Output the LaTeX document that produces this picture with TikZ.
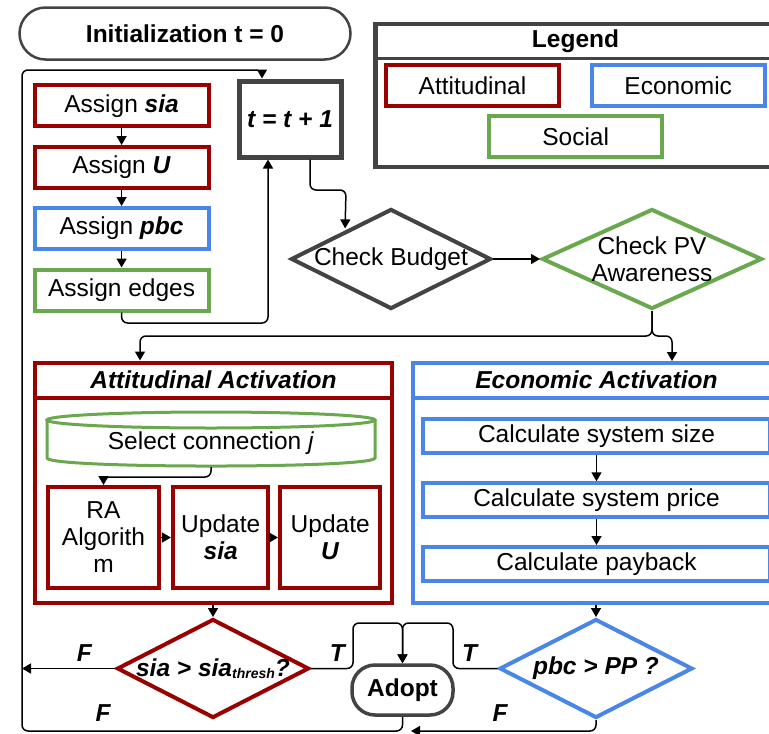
\documentclass[tikz,border=0pt]{standalone}
\usepackage{fontspec}
\setmainfont{Liberation Sans}
\usepackage{tikz}
\usetikzlibrary{shapes,arrows.meta,calc}
\definecolor{attred}{HTML}{990000}
\definecolor{ecoblue}{HTML}{4A86E8}
\definecolor{socgreen}{HTML}{6AA84F}
\definecolor{ctrlgray}{HTML}{434343}
\newcommand{\fsz}{\fontsize{24.5}{27}\selectfont}
\newcommand{\bi}[1]{\textbf{\textit{#1}}}
\tikzstyle{box}=[rectangle,draw,fill=white,line width=4pt,inner sep=0pt,align=center,font=\fsz]
\tikzstyle{attbox}=[box,draw=attred]
\tikzstyle{ecobox}=[box,draw=ecoblue]
\tikzstyle{socbox}=[box,draw=socgreen]
\tikzstyle{ctrlbox}=[box,draw=ctrlgray]
\tikzstyle{dec}=[diamond,draw,fill=white,line width=4pt,inner sep=0pt]
\tikzstyle{flow}=[line width=1.5pt,rounded corners=6pt,-{Triangle[length=9pt,width=10pt]}]
\tikzstyle{lbl}=[font=\fsz\bfseries\itshape]
\newcommand{\pxunit}{1pt}

\begin{document}
\begin{tikzpicture}[x=\pxunit,y=-\pxunit]
    \useasboundingbox (0,0) rectangle (769,734);
    \clip (0,0) rectangle (769,734);
    % start
    \node[ctrlbox, line width=2.5pt, rounded corners=26pt, minimum width=331pt, minimum height=52pt, font=\fsz\bfseries] (init) at (185,33.5) {Initialization t = 0};
    % legend
    \node[ctrlbox, line width=4.5pt, minimum width=400pt, minimum height=143pt] (legend) at (575.5,95.5) {};
    \draw[ctrlgray, line width=3pt] (375.5,58.3) -- (775.5,58.3);
    \node[font=\fsz\bfseries] (legtitle) at (575.5,41) {Legend};
    \node[attbox, minimum width=173pt, minimum height=41pt] (legatt) at (472.5,85.5) {Attitudinal};
    \node[ecobox, minimum width=173pt, minimum height=41pt] (legeco) at (678.2,85.5) {Economic};
    \node[socbox, minimum width=173pt, minimum height=41pt] (legsoc) at (575.7,136.7) {Social};
    % setup
    \node[attbox, minimum width=174pt, minimum height=41pt] (asia) at (121.6,105.8) {Assign \bi{sia}};
    \node[attbox, minimum width=174pt, minimum height=41pt] (au) at (121.6,167.5) {Assign \bi{U}};
    \node[ecobox, minimum width=174pt, minimum height=41pt] (apbc) at (121.6,228.5) {Assign \bi{pbc}};
    \node[socbox, minimum width=174pt, minimum height=41pt] (aedges) at (121.6,290) {Assign edges};
    \node[ctrlbox, line width=5pt, minimum width=102pt, minimum height=76pt] (tinc) at (290,119) {\bi{t = t + 1}};
    \draw[flow] (asia) -- (au);
    \draw[flow] (au) -- (apbc);
    \draw[flow] (apbc) -- (aedges);
    \draw[flow] (aedges.south) |- (268,323) -- (tinc.south -| 268,0);
    % checks
    \node[dec, draw=ctrlgray, minimum width=200pt, minimum height=100pt] (budget) at (391,259) {};
    \node[font=\fsz] (budgettxt) at (budget) {Check Budget};
    \node[dec, draw=socgreen, minimum width=220pt, minimum height=100pt] (pvaware) at (652,259) {};
    \node[font=\fsz, align=center] (pvtxt) at (652,259) {Check PV\\Awareness};
    \draw[flow] (tinc.south -| 310,0) |- (346,190) -- ([yshift=2pt]$(budget.west)!0.55!(budget.north)$);
    \draw[flow] (budget.east) -- (pvaware.west);
    % activation blocks
    \node[attbox, minimum width=357pt, minimum height=240pt] (attact) at (213.5,482.5) {};
    \draw[attred, line width=4pt] (35,398) -- (392,398);
    \node[lbl] (atttitle) at (213.5,380) {Attitudinal Activation};
    \node[ecobox, minimum width=367pt, minimum height=239.5pt] (ecoact) at (596.5,482.75) {};
    \draw[ecoblue, line width=4pt] (413,398) -- (780,398);
    \node[lbl] (ecotitle) at (596.5,380) {Economic Activation};
    \draw[flow] (pvaware.south) |- (140,336) -- (attact.north -| 140,0);
    \draw[flow] (pvaware.south) |- (672,336) -- (ecoact.north -| 672,0);
    % select connection
    \draw[socgreen, line width=3pt, fill=white] (47,420) -- (47,458) .. controls (47,468.7) and (375,468.7) .. (375,458) -- (375,420);
    \draw[socgreen, line width=3pt, fill=white] (211,420) ellipse [x radius=164, y radius=8];
    \node[font=\fsz] (select) at (211,443) {Select connection \textit{j}};
    \coordinate (selbot) at (211,467);
    \node[attbox, minimum width=111pt, minimum height=101pt] (ra) at (103.5,537.5) {RA\\Algorith\\m};
    \node[attbox, minimum width=95.5pt, minimum height=101pt] (usia) at (220.7,537.5) {Update\\\bi{sia}};
    \node[attbox, minimum width=100.5pt, minimum height=101pt] (uu) at (330.2,537.5) {Update\\\bi{U}};
    \draw[flow] (selbot) |- (103.5,477) -- (ra.north);
    \draw[flow] (ra) -- (usia);
    \draw[flow] (usia) -- (uu);
    \node[ecobox, minimum width=347pt, minimum height=33.5pt] (size) at (596.5,435.8) {Calculate system size};
    \node[ecobox, minimum width=347pt, minimum height=33.5pt] (price) at (596.5,500) {Calculate system price};
    \node[ecobox, minimum width=347pt, minimum height=33.5pt] (payback) at (596.5,563.8) {Calculate payback};
    \draw[flow] (size) -- (price);
    \draw[flow] (price) -- (payback);
    % decisions
    \node[dec, draw=attred, minimum width=192pt, minimum height=99pt] (siadec) at (213,668.5) {};
    \node[lbl] (siatxt) at (213,668.5) {sia > sia{\fontsize{14}{14}\selectfont\raisebox{-2pt}{thresh}}?};
    \node[dec, draw=ecoblue, minimum width=193pt, minimum height=99pt] (pbcdec) at (596,668.5) {};
    \node[lbl] (pbctxt) at (596,668.5) {pbc > PP ?};
    \draw[flow] (attact.south -| siadec.north) -- (siadec.north);
    \draw[flow] (ecoact.south -| pbcdec.north) -- (pbcdec.north);
    \node[ctrlbox, line width=3.5pt, rounded corners=23pt, minimum width=101pt, minimum height=50pt, font=\fsz\bfseries] (adopt) at (402.5,690) {Adopt};
    \draw[flow] (siadec.east) -| (353,623) -| (adopt.north);
    \draw[flow] (pbcdec.west) -| (453,623) -| (adopt.north);
    % back to the loop
    \coordinate (loopl) at (22,668.5);
    \draw[flow] (adopt.south) |- (22,731) |- (262,70) -- (tinc.north -| 262,0);
    \draw[flow] (siadec.west) -- (loopl);
    \draw[flow] (pbcdec.south) |- (411,731);
    \node[lbl] (fa) at (84.3,653.3) {F};
    \node[lbl] (fb) at (103,713.3) {F};
    \node[lbl] (fc) at (500,713.3) {F};
    \node[lbl] (ta) at (337.3,653.3) {T};
    \node[lbl] (tb) at (469.6,653.3) {T};
\end{tikzpicture}
\end{document}
